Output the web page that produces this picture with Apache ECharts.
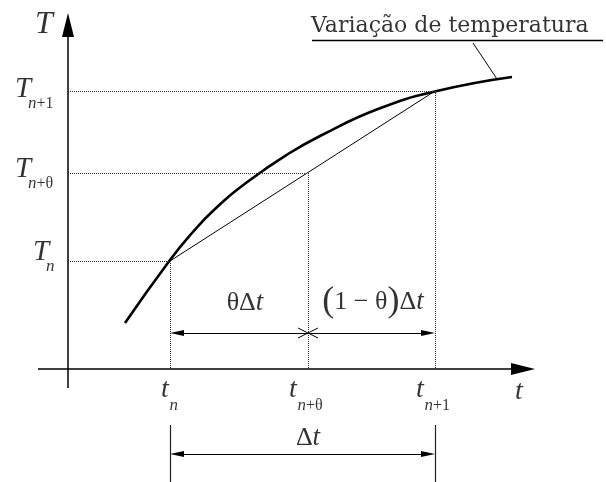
<!DOCTYPE html>
<html>
<head>
<meta charset="utf-8">
<script src="https://cdn.jsdelivr.net/npm/echarts@6/dist/echarts.min.js"></script>
<style>
  html, body { margin: 0; padding: 0; background: #fff; }
  #chart { width: 606px; height: 482px; }
</style>
</head>
<body>
<div id="chart"></div>
<script>
  // diagram space: 1 unit = 1 px, y grows downward
  var tTicks = [170, 308, 435];          // t_n, t_{n+θ}, t_{n+1}
  var TTicks = [261, 173, 91];           // T_n, T_{n+θ}, T_{n+1}
  var tickSubs = ['{i|n}', '{i|n}{r|+θ}', '{i|n}{r|+1}'];
  var subWidths = [10, 30, 30];
  var tempCurve = [
    [125, 323], [170, 260], [192, 233], [215, 209], [250, 180], [288, 154],
    [322, 135], [378, 109], [437, 91], [512, 77]
  ];
  var curveName = 'Variação de temperatura';

  var originX = 68, originY = 369;
  var serif = "'Liberation Serif', 'Times New Roman', serif";
  var black = '#000';

  function seg(a, b, style, endSym, startSym) {
    var p = [{ coord: a, symbol: startSym ? startSym.symbol : 'none', lineStyle: style }, { coord: b, symbol: 'none' }];
    if (startSym) p[0].symbolSize = startSym.size;
    if (endSym) { p[1].symbol = endSym.symbol; p[1].symbolSize = endSym.size; }
    return p;
  }
  var dotted = { color: '#333', width: 1, type: 'dotted' };
  var thin = { color: black, width: 1, type: 'solid' };
  var axisStyle = { color: black, width: 1.5, type: 'solid' };
  var bigArrow = { symbol: 'triangle', size: [12, 24] };
  var smallArrow = { symbol: 'triangle', size: [6, 14] };

  var segs = [];
  // axes
  segs.push(seg([originX, 388], [originX, 25], axisStyle, bigArrow));
  segs.push(seg([38, originY], [523, originY], axisStyle, bigArrow));
  // guide lines
  for (var i = 0; i < 3; i++) {
    segs.push(seg([originX, TTicks[i]], [tTicks[i], TTicks[i]], dotted));
    segs.push(seg([tTicks[i], TTicks[i]], [tTicks[i], originY], dotted));
  }
  // dimension θΔt / (1-θ)Δt
  var dimY = 333;
  segs.push(seg([tTicks[0] + 7, dimY], [tTicks[2] - 7, dimY], thin, smallArrow, smallArrow));
  segs.push(seg([tTicks[1] - 10, dimY - 5], [tTicks[1] + 10, dimY + 5], thin));
  segs.push(seg([tTicks[1] - 10, dimY + 5], [tTicks[1] + 10, dimY - 5], thin));
  // dimension Δt
  var dim2Y = 454;
  var tick2 = { color: '#222', width: 1.2, type: 'solid' };
  segs.push(seg([tTicks[0], 425], [tTicks[0], 482], tick2));
  segs.push(seg([tTicks[2], 425], [tTicks[2], 482], tick2));
  segs.push(seg([tTicks[0] + 7, dim2Y], [tTicks[2] - 7, dim2Y], thin, smallArrow, smallArrow));
  // legend underline and leader
  segs.push(seg([312, 40], [603, 40], { color: black, width: 1.3, type: 'solid' }));
  segs.push(seg([473, 43], [497, 79], thin));

  var mathRich = {
    r: { fontFamily: serif, fontSize: 26, color: black },
    i: { fontFamily: serif, fontSize: 27, fontStyle: 'italic', color: black },
    p: { fontFamily: serif, fontSize: 36, color: black }
  };
  var subRich = {
    r: { fontFamily: serif, fontSize: 16, color: black },
    i: { fontFamily: serif, fontSize: 17, fontStyle: 'italic', color: black }
  };

  function txt(x, y, text, size, italic, align, rich) {
    return {
      value: [x, y],
      label: {
        show: true, position: 'inside', formatter: text, color: black,
        fontFamily: serif, fontSize: size, fontStyle: italic ? 'italic' : 'normal',
        align: align || 'center', verticalAlign: 'middle', rich: rich
      }
    };
  }

  var labels = [];
  labels.push(txt(44, 25, 'T', 32, true));
  labels.push(txt(519, 392, 't', 28, true));
  var TX = [41, 23, 23], TdY = [-9, -4, -2];
  for (var j = 0; j < 3; j++) {
    labels.push(txt(TX[j], TTicks[j] + TdY[j], 'T', 29, true));
    labels.push(txt(TX[j] + 5, TTicks[j] + TdY[j] + 15, tickSubs[j], 16, false, 'left', subRich));
    var w = 9 + subWidths[j], left = tTicks[j] - w / 2;
    labels.push(txt(left + 4.5, 390, 't', 28, true));
    labels.push(txt(left + 9, 406, tickSubs[j], 16, false, 'left', subRich));
  }
  labels.push(txt(245, 303, '{r|θΔ}{i|t}', 26, false, 'center', mathRich));
  labels.push(txt(373, 302, '{p|(}{r|1 − θ}{p|)}{r|Δ}{i|t}', 26, false, 'center', mathRich));
  labels.push(txt(308, 438, '{r|Δ}{i|t}', 26, false, 'center', mathRich));
  labels.push({
    value: [311, 26],
    label: { show: true, position: 'inside', formatter: curveName, color: black,
      fontFamily: 'DejaVu Serif', fontSize: 22, align: 'left', verticalAlign: 'middle' }
  });

  var chart = echarts.init(document.getElementById('chart'));
  chart.setOption({
    animation: false,
    backgroundColor: '#fff',
    grid: { left: 0, right: 0, top: 0, bottom: 0 },
    xAxis: { type: 'value', min: 0, max: 606, show: false },
    yAxis: { type: 'value', min: 0, max: 482, inverse: true, show: false },
    series: [
      {
        name: curveName, type: 'line', data: tempCurve, smooth: 0.5,
        showSymbol: false, symbol: 'none', silent: true,
        lineStyle: { color: black, width: 2.6 }
      },
      {
        name: 'chord', type: 'line', silent: true, showSymbol: false, symbol: 'none',
        data: [[tTicks[0], TTicks[0]], [tTicks[2], TTicks[2]]],
        lineStyle: { color: black, width: 1 },
        markLine: {
          silent: true, animation: false, symbol: 'none',
          label: { show: false },
          itemStyle: { color: black },
          emphasis: { disabled: true },
          data: segs
        }
      },
      {
        name: 'labels', type: 'scatter', silent: true, symbolSize: 0,
        data: labels
      }
    ]
  });
</script>
</body>
</html>
